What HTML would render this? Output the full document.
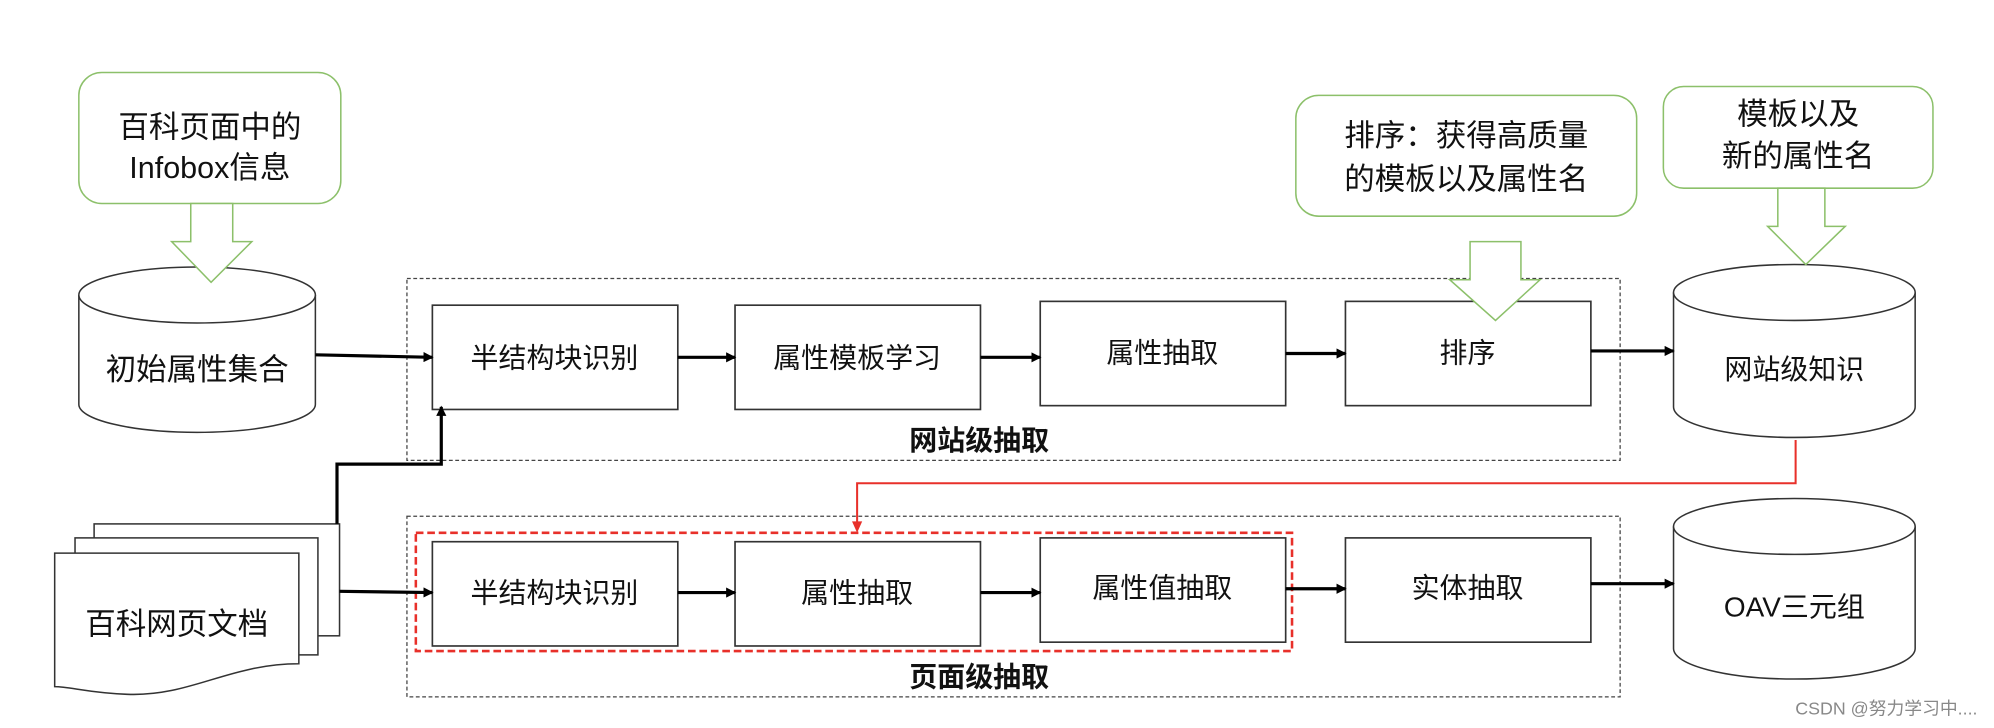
<!DOCTYPE html>
<html><head><meta charset="utf-8"><style>
html,body{margin:0;padding:0;background:#fff;}
svg{display:block;}
text{font-family:"Liberation Sans","Noto Sans CJK SC",sans-serif;fill:#111;}
</style></head><body>
<svg width="1994" height="728" viewBox="0 0 1568 572.5" preserveAspectRatio="none" xmlns="http://www.w3.org/2000/svg">
<defs>
<marker id="ab" markerWidth="8" markerHeight="8" refX="7" refY="4" orient="auto" markerUnits="userSpaceOnUse"><path d="M0,0 L8,4 L0,8 z" fill="#000"/></marker>
</defs>
<rect width="1568" height="572.5" fill="#fff"/>
<!-- callout 1 -->
<rect x="62" y="57" width="206" height="103" rx="18" fill="#fff" stroke="#8cc06a" stroke-width="1.2"/>
<text x="165" y="108" font-size="24" text-anchor="middle">百科页面中的</text>
<text x="165" y="140" font-size="24" text-anchor="middle">Infobox信息</text>
<!-- cylinder 1 -->
<path d="M62,232 L62,318 A93,22 0 0 0 248,318 L248,232" fill="#fff" stroke="#333" stroke-width="1.2"/>
<ellipse cx="155" cy="232" rx="93" ry="22" fill="#fff" stroke="#333" stroke-width="1.2"/>
<text x="155" y="299" font-size="24" text-anchor="middle">初始属性集合</text>
<!-- website box -->
<rect x="320" y="219" width="954" height="143" fill="none" stroke="#444" stroke-width="1" stroke-dasharray="3,2"/>
<text x="770" y="354" font-size="22" font-weight="bold" text-anchor="middle">网站级抽取</text>
<g fill="#fff" stroke="#333" stroke-width="1.3">
<rect x="340" y="240" width="193" height="82"/><rect x="578" y="240" width="193" height="82"/>
<rect x="818" y="237" width="193" height="82"/><rect x="1058" y="237" width="193" height="82"/>
</g>
<g font-size="22" text-anchor="middle">
<text x="436" y="289">半结构块识别</text><text x="674" y="289">属性模板学习</text>
<text x="914" y="285">属性抽取</text><text x="1154" y="285">排序</text>
</g>
<!-- callout 2 -->
<rect x="1019" y="75" width="268" height="95" rx="18" fill="#fff" stroke="#8cc06a" stroke-width="1.2"/>
<text x="1153" y="115" font-size="24" text-anchor="middle">排序：获得高质量</text>
<text x="1153" y="149" font-size="24" text-anchor="middle">的模板以及属性名</text>
<!-- callout 3 -->
<rect x="1308" y="68" width="212" height="80" rx="16" fill="#fff" stroke="#8cc06a" stroke-width="1.2"/>
<text x="1414" y="98" font-size="24" text-anchor="middle">模板以及</text>
<text x="1414" y="131" font-size="24" text-anchor="middle">新的属性名</text>
<!-- cylinder 2 -->
<path d="M1316,230 L1316,320 A95,24 0 0 0 1506,320 L1506,230" fill="#fff" stroke="#333" stroke-width="1.2"/>
<ellipse cx="1411" cy="230" rx="95" ry="22" fill="#fff" stroke="#333" stroke-width="1.2"/>
<text x="1411" y="298" font-size="22" text-anchor="middle">网站级知识</text>
<!-- page box -->
<rect x="320" y="406" width="954" height="142" fill="none" stroke="#444" stroke-width="1" stroke-dasharray="3,2"/>
<text x="770" y="540" font-size="22" font-weight="bold" text-anchor="middle">页面级抽取</text>
<rect x="327" y="419" width="689" height="93" fill="none" stroke="#e8302a" stroke-width="2" stroke-dasharray="6,3"/>
<g fill="#fff" stroke="#333" stroke-width="1.3">
<rect x="340" y="426" width="193" height="82"/><rect x="578" y="426" width="193" height="82"/>
<rect x="818" y="423" width="193" height="82"/><rect x="1058" y="423" width="193" height="82"/>
</g>
<g font-size="22" text-anchor="middle">
<text x="436" y="474">半结构块识别</text><text x="674" y="474">属性抽取</text>
<text x="914" y="470">属性值抽取</text><text x="1154" y="470">实体抽取</text>
</g>
<!-- cylinder 3 -->
<path d="M1316,414 L1316,510 A95,24 0 0 0 1506,510 L1506,414" fill="#fff" stroke="#333" stroke-width="1.2"/>
<ellipse cx="1411" cy="414" rx="95" ry="22" fill="#fff" stroke="#333" stroke-width="1.2"/>
<text x="1411" y="485" font-size="22" text-anchor="middle">OAV三元组</text>
<!-- documents -->
<g fill="#fff" stroke="#333" stroke-width="1.2">
<rect x="74" y="412" width="193" height="88"/>
<rect x="59" y="423" width="191" height="92"/>
<path d="M43,435 L235,435 L235,522 C180,522 150,548 100,546 C70,545 55,540 43,540 z"/>
</g>
<text x="139" y="499" font-size="24" text-anchor="middle">百科网页文档</text>
<!-- hollow arrows on top -->
<g fill="#fff" stroke="#8cc06a" stroke-width="1.2">
<path d="M150,160 L183,160 L183,190 L198,190 L166,222 L135,190 L150,190 z"/>
<path d="M1156,190 L1196,190 L1196,220 L1211,220 L1176,252 L1140,220 L1156,220 z"/>
<path d="M1398,148 L1435,148 L1435,178 L1451,178 L1420,208 L1390,178 L1398,178 z"/>
</g>
<!-- connectors -->
<g stroke="#000" stroke-width="2.5" fill="none" marker-end="url(#ab)">
<path d="M248,279 L340,281"/>
<path d="M533,281 L578,281"/><path d="M771,281 L818,281"/><path d="M1011,278 L1058,278"/>
<path d="M1251,276 L1316,276"/>
<path d="M267,465 L340,466"/>
<path d="M533,466 L578,466"/><path d="M771,466 L818,466"/><path d="M1011,463 L1058,463"/>
<path d="M1251,459 L1316,459"/>
<path d="M265,412 L265,365 L347,365 L347,320"/>
</g>
<path d="M1412,346 L1412,380 L674,380 L674,416" stroke="#e8302a" stroke-width="1.6" fill="none"/>
<path d="M670,410 L678,410 L674,419 z" fill="#e8302a"/>
<text x="1555" y="562" font-size="14" text-anchor="end" style="fill:#888">CSDN @努力学习中....</text>
</svg>
</body></html>
